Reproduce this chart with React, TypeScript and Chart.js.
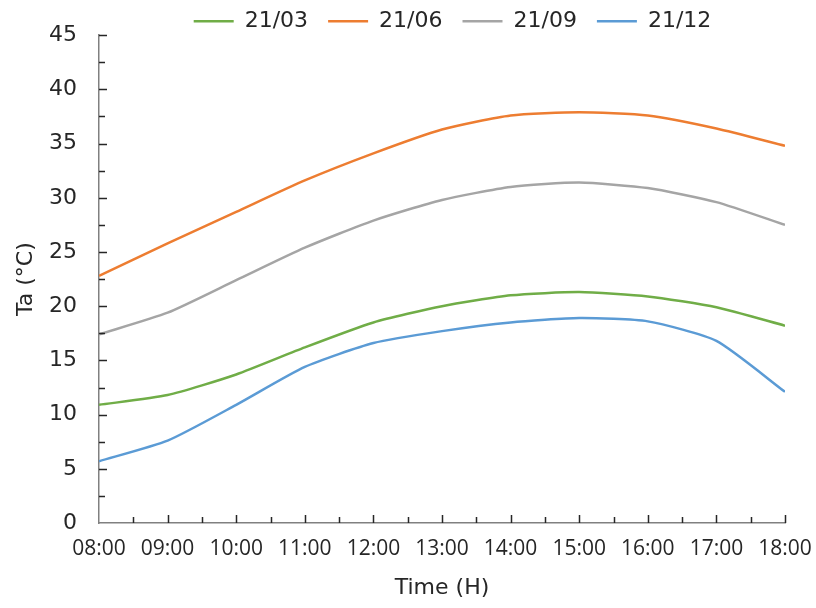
import React, { useEffect, useRef } from "react";
import { Chart, registerables } from "chart.js";

Chart.register(...registerables);

const hours = [8, 9, 10, 11, 12, 13, 14, 15, 16, 17, 18];
const hourLabels = ["08:00", "09:00", "10:00", "11:00", "12:00", "13:00", "14:00", "15:00", "16:00", "17:00", "18:00"];
const seriesNames = ["21/03", "21/06", "21/09", "21/12"];
const march = [10.9, 11.8, 13.7, 16.2, 18.5, 20.0, 21.0, 21.3, 20.9, 19.9, 18.2];
const june = [22.8, 25.8, 28.7, 31.6, 34.1, 36.3, 37.6, 37.9, 37.6, 36.4, 34.8];
const september = [17.4, 19.4, 22.4, 25.4, 27.9, 29.8, 31.0, 31.4, 30.9, 29.6, 27.5];
const december = [5.7, 7.6, 10.9, 14.4, 16.6, 17.7, 18.5, 18.9, 18.6, 16.8, 12.1];
const colors = ["#70AD47", "#ED7D31", "#A5A5A5", "#5B9BD5"];

const inwardTicks = {
  id: "inwardTicks",
  afterDraw(chart: any) {
    const { ctx, chartArea, scales } = chart;
    const xs = scales.x;
    const ys = scales.y;
    ctx.save();
    ctx.strokeStyle = "#262626";
    ctx.lineWidth = 1.5;
    ctx.beginPath();
    for (let v = xs.min + 0.5; v <= xs.max + 1e-6; v += 0.5) {
      const px = Math.round(xs.getPixelForValue(v)) + 0.5;
      const len = Math.abs(v - Math.round(v)) < 1e-6 ? 8 : 6;
      ctx.moveTo(px, chartArea.bottom);
      ctx.lineTo(px, chartArea.bottom - len);
    }
    for (let v = ys.min + 2.5; v <= ys.max + 1e-6; v += 2.5) {
      const py = Math.round(ys.getPixelForValue(v)) + 0.5;
      const len = Math.abs(v / 5 - Math.round(v / 5)) < 1e-6 ? 8 : 6;
      ctx.moveTo(chartArea.left, py);
      ctx.lineTo(chartArea.left + len, py);
    }
    ctx.stroke();
    ctx.restore();
  },
};

const legendShift = {
  id: "legendShift",
  afterLayout(chart: any) {
    if (chart.legend) {
      chart.legend.top += 7;
      chart.legend.bottom += 7;
      chart.legend.left += 60;
      chart.legend.right += 60;
    }
  },
};

export default function App() {
  const ref = useRef<HTMLCanvasElement | null>(null);
  useEffect(() => {
    if (!ref.current) return;
    const all = [march, june, september, december];
    const chart = new Chart(ref.current, {
      type: "line",
      data: {
        datasets: all.map((vals, i) => ({
          label: seriesNames[i],
          data: vals.map((v, j) => ({ x: hours[j], y: v })),
          borderColor: colors[i],
          backgroundColor: colors[i],
          borderWidth: 2.5,
          pointRadius: 0,
          tension: 0.2,
          fill: false,
        })),
      },
      options: {
        animation: false,
        responsive: true,
        maintainAspectRatio: false,
        layout: { padding: { top: -26, right: 31, bottom: 0, left: 0 } },
        plugins: {
          tooltip: { enabled: false },
          legend: {
            position: "top",
            align: "center",
            labels: {
              usePointStyle: true,
              pointStyle: "line",
              pointStyleWidth: 40,
              padding: 20,
              color: "#262626",
              font: { family: "DejaVu Sans", size: 22 },
            },
          },
        },
        scales: {
          x: {
            type: "linear",
            min: 8,
            max: 18,
            grid: { display: false, drawTicks: false },
            border: { display: true, color: "#808080", width: 1.5 },
            ticks: {
              stepSize: 1,
              padding: 13,
              color: "#262626",
              font: { family: "Open Sans", size: 21 },
              maxRotation: 0,
              autoSkip: false,
              callback: (v: any) => {
                const idx = hours.indexOf(Number(v));
                return idx >= 0 ? hourLabels[idx] : "";
              },
            },
            title: {
              display: true,
              text: "Time (H)",
              color: "#262626",
              font: { family: "DejaVu Sans", size: 22 },
              padding: { top: 0, bottom: 7 },
            },
            afterFit: (s: any) => {
              s.height = 85;
              s.paddingLeft = 0;
              s.paddingRight = 0;
            },
          },
          y: {
            min: 0,
            max: 45,
            grid: { display: false, drawTicks: false },
            border: { display: true, color: "#808080", width: 1.5 },
            ticks: {
              stepSize: 5,
              padding: 22,
              color: "#262626",
              font: { family: "DejaVu Sans", size: 22 },
            },
            title: {
              display: true,
              text: "Ta (°C)",
              color: "#262626",
              font: { family: "DejaVu Sans", size: 22 },
              padding: { top: 13, bottom: 0 },
            },
            afterFit: (s: any) => {
              s.width = 99;
            },
          },
        },
      },
      plugins: [inwardTicks, legendShift],
    });
    return () => chart.destroy();
  }, []);
  return (
    <div style={{ position: "absolute", left: 0, top: 0, width: 816, height: 608 }}>
      <canvas ref={ref} />
    </div>
  );
}
